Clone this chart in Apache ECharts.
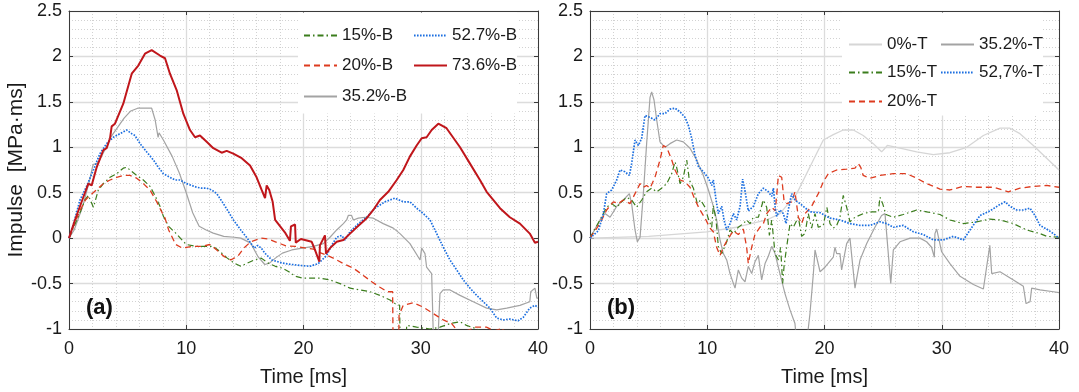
<!DOCTYPE html>
<html>
<head>
<meta charset="utf-8">
<script src="https://cdn.jsdelivr.net/npm/echarts@6/dist/echarts.min.js"></script>
<style>
  html, body { margin: 0; padding: 0; background: #fff; }
  #chart { width: 1079px; height: 392px; }
</style>
</head>
<body>
<div id="chart"></div>
<script>
// Impulse histories [MPa·ms] against time [ms], as [t, value] pairs.
// Panel (a): bottom gauges
const B15 = [[0,0],[0.5,0.15],[1.0,0.3],[1.36,0.42],[1.65,0.47],[1.79,0.46],[2.08,0.34],[2.22,0.40],[2.5,0.53],[2.93,0.60],[3.5,0.67],[4.07,0.71],[4.63,0.77],[4.92,0.78],[5.2,0.75],[5.77,0.69],[6.34,0.64],[6.91,0.57],[7.33,0.47],[7.76,0.35],[8.05,0.24],[8.5,0.13],[9.1,0.055],[10.0,-0.07],[10.8,-0.09],[11.7,-0.09],[12.3,-0.09],[12.9,-0.15],[13.5,-0.22],[14.1,-0.275],[14.65,-0.31],[15.2,-0.275],[15.8,-0.24],[16.4,-0.22],[17.0,-0.275],[17.6,-0.31],[18.2,-0.33],[18.75,-0.37],[19.3,-0.42],[19.9,-0.44],[20.55,-0.44],[21.4,-0.44],[22.26,-0.46],[23.11,-0.50],[23.97,-0.55],[24.82,-0.57],[25.67,-0.59],[26.52,-0.63],[27.38,-0.68],[27.8,-0.72],[28.2,-0.74],[28.25,-1.3],[28.7,-1.3],[28.8,-0.96],[29.65,-0.98],[30.8,-1.0],[31.64,-0.98],[32.5,-0.94],[33.35,-0.92],[33.9,-0.96],[34.8,-1.0],[36,-1.1],[38,-1.2],[40,-1.2]];
const B20 = [[0,0],[0.5,0.17],[1.0,0.32],[1.4,0.42],[1.79,0.47],[2.5,0.55],[2.93,0.60],[3.5,0.64],[4.07,0.67],[4.63,0.69],[5.2,0.69],[5.77,0.66],[6.34,0.60],[6.91,0.53],[7.48,0.40],[7.9,0.29],[8.19,0.22],[8.5,0.09],[9.1,-0.07],[9.67,-0.11],[10.55,-0.09],[11.4,-0.09],[12.0,-0.07],[12.6,-0.13],[13.2,-0.20],[13.8,-0.24],[14.4,-0.20],[14.9,-0.11],[15.5,-0.04],[16.4,0.0],[17.0,-0.01],[17.6,-0.04],[18.5,-0.085],[19.3,-0.09],[20.2,-0.11],[20.84,-0.12],[21.4,-0.16],[21.83,-0.18],[22.54,-0.22],[23.4,-0.28],[24.25,-0.33],[25.1,-0.41],[25.82,-0.48],[26.52,-0.54],[27.15,-0.59],[27.6,-0.59],[27.65,-1.3],[28.1,-1.3],[28.15,-0.85],[28.5,-0.74],[29.37,-0.71],[30.22,-0.76],[31.07,-0.83],[31.92,-0.90],[32.64,-0.94],[33.3,-1.05],[34.3,-1.0],[34.6,-0.98],[35.6,-0.98],[36.3,-1.02],[37.0,-0.99],[37.2,-1.3],[40,-1.3]];
const B35 = [[0,0],[0.44,0.09],[1.17,0.35],[1.76,0.64],[2.05,0.81],[2.5,0.83],[2.93,0.94],[3.22,1.01],[3.5,1.10],[4.1,1.21],[4.7,1.32],[5.27,1.40],[5.86,1.43],[6.45,1.43],[7.05,1.43],[7.15,1.44],[7.35,1.30],[7.6,1.11],[7.68,1.16],[8.05,1.08],[8.8,0.90],[9.4,0.72],[10.0,0.50],[10.55,0.28],[11.1,0.13],[11.7,0.09],[12.3,0.055],[13.2,0.02],[14.1,0.01],[14.65,0.0],[15.5,-0.055],[16.1,-0.2],[16.7,-0.29],[17.1,-0.275],[17.6,-0.22],[18.2,-0.165],[19.0,-0.13],[19.9,-0.11],[20.84,-0.09],[21.69,-0.06],[22.26,0.01],[22.83,0.09],[23.4,0.16],[23.68,0.20],[23.82,0.25],[24.1,0.25],[24.25,0.20],[24.68,0.22],[25.25,0.23],[25.95,0.22],[26.8,0.16],[27.66,0.11],[28.23,0.05],[29.08,-0.06],[29.8,-0.21],[29.94,-0.24],[30.08,-0.11],[30.36,-0.17],[30.5,-0.32],[30.93,-0.39],[31.07,-0.41],[31.12,-1.3],[31.4,-1.3],[31.64,-0.61],[31.92,-0.57],[32.5,-0.57],[33.35,-0.63],[34.48,-0.70],[35.62,-0.77],[36.48,-0.79],[37.33,-0.77],[38.46,-0.74],[39.3,-0.70],[39.38,-0.59],[39.74,-0.55],[39.9,-0.66],[40,-0.66]];
const B527 = [[0,0],[0.37,0.15],[0.94,0.42],[1.5,0.57],[2.08,0.75],[2.64,0.93],[3.21,1.04],[3.78,1.11],[4.35,1.15],[4.92,1.19],[5.35,1.15],[5.63,1.13],[6.06,1.04],[6.62,0.95],[7.2,0.86],[7.62,0.78],[8.05,0.71],[8.61,0.67],[9.04,0.64],[9.47,0.64],[10.03,0.60],[10.46,0.58],[10.89,0.56],[11.32,0.55],[11.74,0.55],[12.17,0.53],[12.6,0.49],[13.17,0.38],[13.6,0.29],[14.02,0.20],[14.65,0.09],[15.2,0.0],[15.8,-0.11],[16.1,-0.08],[16.4,-0.11],[16.7,-0.165],[17.3,-0.24],[18.2,-0.275],[19.0,-0.29],[19.7,-0.30],[20.55,-0.31],[21.26,-0.28],[21.98,-0.19],[22.4,-0.08],[22.83,0.01],[23.26,0.03],[23.54,-0.02],[23.97,0.07],[24.68,0.16],[25.39,0.23],[26.1,0.33],[26.95,0.40],[27.8,0.44],[28.51,0.40],[29.08,0.40],[29.65,0.33],[30.22,0.27],[30.79,0.20],[31.36,0.05],[31.92,-0.10],[32.49,-0.24],[33.07,-0.35],[33.63,-0.46],[34.2,-0.55],[34.77,-0.63],[35.33,-0.70],[35.9,-0.77],[36.48,-0.88],[37.04,-0.90],[37.6,-0.89],[38.3,-0.91],[38.75,-0.87],[39.3,-0.77],[39.74,-0.74],[40,-0.76]];
const B736 = [[0,0],[0.51,0.20],[1.22,0.45],[1.65,0.60],[1.93,0.58],[2.36,0.78],[2.93,0.97],[3.21,0.99],[3.5,1.10],[3.64,1.23],[3.92,1.26],[4.63,1.48],[5.35,1.81],[5.91,1.90],[6.48,2.03],[7.05,2.07],[7.76,2.01],[8.19,1.98],[8.61,1.81],[9.18,1.63],[9.75,1.37],[10.32,1.19],[10.75,1.11],[11.17,1.13],[11.74,1.06],[12.31,0.99],[13.02,0.94],[13.45,0.96],[14.01,0.93],[14.73,0.88],[15.44,0.80],[16.0,0.67],[16.43,0.53],[16.72,0.44],[16.86,0.58],[17.08,0.53],[17.37,0.40],[17.58,0.20],[18.46,0.055],[18.84,-0.03],[18.93,0.13],[19.28,0.15],[19.34,-0.05],[19.78,-0.01],[20.7,-0.04],[20.98,-0.13],[21.35,-0.26],[21.4,-0.08],[21.83,0.03],[21.92,-0.17],[22.26,-0.11],[22.83,-0.04],[23.4,-0.02],[23.97,0.05],[24.54,0.12],[25.39,0.22],[25.95,0.31],[26.52,0.42],[27.23,0.51],[27.95,0.64],[28.51,0.75],[29.08,0.90],[29.65,1.02],[30.08,1.10],[30.5,1.11],[30.93,1.19],[31.5,1.26],[32.2,1.21],[33.35,1.00],[34.2,0.82],[35.05,0.64],[35.62,0.51],[36.76,0.33],[37.6,0.23],[38.46,0.16],[39.3,0.05],[39.74,-0.05],[40,-0.04]];

// Panel (b): top gauges
const T0 = [[0,0],[5,0.02],[9.95,0.07],[12.51,0.12],[15.07,0.20],[16.2,0.27],[17.63,0.49],[19.05,0.86],[19.9,1.08],[20.75,1.14],[21.6,1.19],[22.46,1.19],[23.3,1.13],[24.16,1.04],[24.87,0.95],[25.16,0.99],[25.36,1.02],[26.44,0.99],[27.86,0.95],[29.28,0.92],[30.7,0.94],[32.13,1.0],[33.55,1.13],[34.97,1.21],[35.82,1.21],[36.67,1.15],[37.81,1.02],[38.95,0.88],[40,0.75]];
const T15 = [[0,0],[0.85,0.20],[1.42,0.34],[1.85,0.38],[2.28,0.34],[2.7,0.40],[3.13,0.45],[3.55,0.42],[3.98,0.34],[4.41,0.42],[4.83,0.51],[5.26,0.55],[5.69,0.51],[6.11,0.55],[6.54,0.60],[6.97,0.71],[7.25,0.84],[7.39,0.78],[7.68,0.60],[7.96,0.67],[8.25,0.86],[8.47,0.64],[8.82,0.55],[9.15,0.38],[9.44,0.42],[9.81,0.34],[10.1,0.21],[10.38,0.12],[10.52,0.36],[10.75,0.20],[10.95,-0.10],[11.24,-0.17],[11.66,-0.04],[11.94,0.09],[12.23,0.05],[12.65,0.12],[13.08,0.16],[13.36,0.20],[13.65,0.16],[13.93,0.23],[14.36,0.23],[14.79,0.42],[15.07,0.34],[15.3,0.03],[15.5,0.20],[15.78,-0.17],[16.07,-0.24],[16.26,-0.10],[16.43,-0.50],[16.55,-0.31],[16.77,-0.10],[17.06,0.16],[17.34,0.12],[17.77,0.23],[18.05,0.02],[18.34,0.05],[18.62,0.27],[18.9,0.11],[19.19,0.27],[19.47,0.12],[19.9,0.14],[20.2,0.34],[20.47,0.16],[20.75,0.11],[21.04,0.14],[21.32,0.23],[21.6,0.47],[21.89,0.34],[22.17,0.18],[22.6,0.23],[23.3,0.27],[24.02,0.29],[24.59,0.29],[24.73,0.45],[24.96,0.38],[25.24,0.26],[25.87,0.23],[26.72,0.26],[27.86,0.31],[28.71,0.29],[29.85,0.26],[30.7,0.20],[31.84,0.16],[32.98,0.18],[34.11,0.21],[34.97,0.20],[36.11,0.16],[37.25,0.09],[38.38,0.05],[38.95,0.02],[40,0.01]];
const T20 = [[0,0],[0.85,0.16],[1.42,0.31],[1.99,0.40],[2.42,0.38],[2.84,0.42],[3.41,0.38],[3.84,0.49],[4.27,0.60],[4.55,0.56],[4.83,0.58],[5.12,0.55],[5.54,0.67],[5.97,0.86],[6.25,1.02],[6.54,1.0],[6.97,0.86],[7.25,0.75],[7.68,0.64],[8.1,0.62],[8.53,0.56],[8.96,0.42],[9.38,0.31],[9.81,0.22],[10.24,0.11],[10.52,0.07],[10.8,-0.10],[11.09,-0.19],[11.37,-0.10],[11.8,0.0],[12.23,0.08],[12.65,0.04],[13.08,0.10],[13.36,-0.10],[13.5,-0.28],[13.79,-0.10],[14.07,0.04],[14.5,0.12],[14.79,0.16],[15.07,0.27],[15.5,0.34],[15.8,0.30],[16.07,0.69],[16.35,0.67],[16.55,0.41],[16.77,0.38],[17.2,0.40],[17.48,0.51],[17.77,0.23],[18.05,0.16],[18.34,0.27],[18.9,0.35],[19.47,0.49],[19.9,0.62],[20.33,0.71],[21.04,0.75],[21.89,0.76],[22.6,0.77],[22.89,0.82],[23.09,0.78],[23.3,0.69],[23.88,0.66],[24.73,0.69],[25.87,0.71],[27.0,0.71],[27.86,0.66],[28.71,0.60],[29.85,0.54],[30.7,0.53],[31.84,0.57],[32.98,0.56],[34.4,0.56],[35.68,0.51],[36.67,0.55],[37.81,0.57],[38.95,0.58],[40,0.56]];
const T35 = [[0,0],[0.85,0.20],[1.28,0.27],[1.71,0.23],[2.28,0.35],[2.84,0.42],[3.36,0.49],[3.55,0.38],[3.84,0.09],[4.04,-0.04],[4.27,0.01],[4.55,0.49],[4.83,1.04],[5.12,1.55],[5.26,1.61],[5.46,1.52],[5.69,1.30],[5.97,1.06],[6.4,1.0],[6.82,1.04],[7.39,1.08],[7.96,1.06],[8.53,0.99],[9.1,0.86],[9.67,0.69],[10.1,0.53],[10.52,0.35],[10.8,0.2],[11.09,-0.02],[11.37,-0.17],[11.66,-0.24],[11.94,-0.39],[12.37,-0.55],[12.65,-0.35],[12.94,-0.44],[13.22,-0.48],[13.5,-0.31],[13.79,-0.39],[14.07,-0.26],[14.36,-0.19],[14.64,-0.46],[14.93,-0.28],[15.21,-0.20],[15.5,-0.09],[15.78,-0.17],[16.2,-0.39],[16.63,-0.61],[17.06,-0.79],[17.48,-0.94],[17.63,-1.15],[18.48,-1.15],[18.76,-0.83],[19.05,-0.39],[19.19,-0.13],[19.62,-0.37],[20.04,-0.32],[20.75,-0.21],[20.89,-0.10],[21.04,-0.17],[21.32,-0.17],[21.46,-0.35],[21.89,-0.06],[22.17,0.0],[22.6,-0.55],[23.03,-0.24],[23.6,-0.06],[24.3,0.12],[24.87,0.25],[25.16,0.27],[25.65,-0.50],[25.87,-0.13],[26.44,-0.04],[27.3,0.0],[28.14,0.0],[28.71,-0.04],[29.13,-0.10],[29.37,-0.21],[29.42,0.05],[29.57,0.10],[29.99,-0.15],[30.7,-0.28],[31.56,-0.42],[32.7,-0.51],[33.55,-0.56],[33.65,-0.56],[34.1,-0.08],[34.26,-0.39],[34.97,-0.37],[36.11,-0.46],[36.96,-0.53],[37.19,-0.72],[37.53,-0.70],[37.67,-0.55],[38.38,-0.57],[39.52,-0.59],[40,-0.60]];
const T527 = [[0,0],[0.71,0.08],[1.14,0.27],[1.42,0.49],[1.85,0.53],[2.28,0.64],[2.56,0.75],[2.99,0.73],[3.36,0.69],[3.55,0.82],[3.84,1.08],[4.13,1.02],[4.41,1.10],[4.69,1.35],[5.12,1.33],[5.54,1.30],[5.97,1.37],[6.4,1.37],[6.82,1.42],[7.25,1.43],[7.68,1.39],[8.1,1.33],[8.39,1.24],[8.67,1.10],[8.96,0.91],[9.24,0.79],[9.67,0.73],[10.1,0.66],[10.38,0.58],[10.52,0.64],[10.75,0.42],[10.95,0.27],[11.24,0.35],[11.43,0.20],[11.66,0.09],[11.94,0.16],[12.23,0.27],[12.51,0.20],[12.8,0.35],[13.02,0.65],[13.22,0.52],[13.5,0.30],[13.93,0.35],[14.36,0.49],[14.79,0.55],[15.21,0.51],[15.5,0.46],[15.64,0.55],[15.78,0.35],[15.92,0.24],[16.2,0.31],[16.49,0.27],[16.72,0.16],[16.91,0.31],[17.2,0.49],[17.48,0.42],[17.91,0.38],[18.76,0.29],[19.62,0.28],[20.47,0.22],[21.32,0.20],[22.17,0.16],[23.03,0.14],[23.88,0.14],[24.73,0.18],[25.3,0.16],[25.87,0.12],[26.72,0.14],[27.58,0.07],[28.43,0.04],[29.28,-0.02],[30.13,-0.02],[30.99,0.02],[31.84,-0.02],[32.41,0.09],[33.27,0.25],[34.11,0.30],[34.83,0.36],[35.4,0.40],[35.82,0.35],[36.39,0.31],[36.96,0.31],[37.53,0.33],[37.95,0.25],[38.38,0.14],[38.95,0.10],[39.52,0.05],[40,0.0]];

const yTicks = { min: -1, max: 2.5, step: 0.5 };
const xTicks = { min: 0, max: 40, step: 10 };

const FONT = "'Liberation Sans', Arial, Helvetica, sans-serif";
const INK = '#1a1a1a';
const FRAME = '#3a3a3a';

const C = {
  green: '#3b7d1c',
  redDash: '#dd3b1f',
  gray: '#a3a3a3',
  blue: '#1c6fe0',
  red: '#c0161b',
  pale: '#d6d6d6'
};
const DASHDOT = [6, 3, 1.5, 3];
const DASH = [6, 4];
const DOT = [1.6, 1.4];

const chart = echarts.init(document.getElementById('chart'), null, { renderer: 'canvas' });

function xAxis(gridIndex, main) {
  return {
    type: 'value', gridIndex, position: main ? 'bottom' : 'top',
    min: xTicks.min, max: xTicks.max, interval: xTicks.step,
    axisLine: { show: true, onZero: false, lineStyle: { color: FRAME, width: 1 } },
    axisTick: { show: true, inside: true, length: 4, lineStyle: { color: FRAME } },
    axisLabel: { show: main, fontSize: 18, color: INK, fontFamily: FONT, margin: 11 },
    splitLine: { show: main, lineStyle: { color: '#dcdcdc', width: 1.3 } },
    minorTick: { show: false, splitNumber: 5 },
    minorSplitLine: { show: main, lineStyle: { color: '#d2d2d2', width: 1, type: [1, 2] } },
    name: main ? 'Time [ms]' : '', nameLocation: 'middle', nameGap: 38,
    nameTextStyle: { fontSize: 20, color: INK, fontFamily: FONT }
  };
}
function yAxis(gridIndex, main, title) {
  return {
    type: 'value', gridIndex, position: main ? 'left' : 'right',
    min: yTicks.min, max: yTicks.max, interval: yTicks.step,
    axisLine: { show: true, onZero: false, lineStyle: { color: FRAME, width: 1 } },
    axisTick: { show: true, inside: true, length: 4, lineStyle: { color: FRAME } },
    axisLabel: { show: main, fontSize: 18, color: INK, fontFamily: FONT, margin: 7 },
    splitLine: { show: main, lineStyle: { color: '#dcdcdc', width: 1.3 } },
    minorTick: { show: false, splitNumber: 5 },
    minorSplitLine: { show: main, lineStyle: { color: '#d2d2d2', width: 1, type: [1, 2] } },
    name: title || '', nameLocation: 'middle', nameGap: 42,
    nameTextStyle: { fontSize: 21, color: INK, fontFamily: FONT }
  };
}

function line(name, data, panel, color, width, type) {
  return {
    type: 'line', name, data,
    xAxisIndex: panel * 2, yAxisIndex: panel * 2,
    showSymbol: false, symbol: 'none', clip: true,
    lineStyle: { color, width, type },
    itemStyle: { color },
    emphasis: { disabled: true }
  };
}

// one legend entry per slot, line sample only (no marker)
function legendItem(name, left, centerY) {
  return {
    data: [name], left, top: centerY - 9, padding: 0,
    itemWidth: 33, itemHeight: 12, selectedMode: false,
    itemStyle: { opacity: 0, borderWidth: 0 },
    textStyle: { fontSize: 17, color: INK, fontFamily: FONT }
  };
}

const option = {
  animation: false,
  backgroundColor: '#fff',
  grid: [
    { left: 69, top: 11, width: 469, height: 318 },
    { left: 590, top: 11, width: 469, height: 318 }
  ],
  xAxis: [xAxis(0, true), xAxis(0, false), xAxis(1, true), xAxis(1, false)],
  yAxis: [yAxis(0, true, 'Impulse  [MPa·ms]'), yAxis(0, false), yAxis(1, true), yAxis(1, false)],
  legend: [
    legendItem('15%-B', 303, 36),
    legendItem('52.7%-B', 413, 36),
    legendItem('20%-B', 303, 66),
    legendItem('73.6%-B', 413, 66),
    legendItem('35.2%-B', 303, 97),
    legendItem('0%-T', 848, 45),
    legendItem('35.2%-T', 940, 45),
    legendItem('15%-T', 848, 73),
    legendItem('52,7%-T', 940, 73),
    legendItem('20%-T', 848, 102)
  ],
  graphic: [
    { type: 'rect', z: 1, shape: { x: 298, y: 12.5, width: 219, height: 101 }, style: { fill: '#fff' } },
    { type: 'rect', z: 1, shape: { x: 842, y: 12.5, width: 201, height: 103 }, style: { fill: '#fff' } },
    { type: 'text', z: 5, x: 86, y: 308, style: { text: '(a)', font: 'bold 22px ' + FONT, fill: '#111', verticalAlign: 'middle' } },
    { type: 'text', z: 5, x: 607, y: 308, style: { text: '(b)', font: 'bold 22px ' + FONT, fill: '#111', verticalAlign: 'middle' } }
  ],
  series: [
    line('35.2%-B', B35, 0, C.gray, 1.2, 'solid'),
    line('15%-B', B15, 0, C.green, 1.2, DASHDOT),
    line('20%-B', B20, 0, C.redDash, 1.3, DASH),
    line('52.7%-B', B527, 0, C.blue, 1.7, DOT),
    line('73.6%-B', B736, 0, C.red, 2, 'solid'),
    line('0%-T', T0, 1, C.pale, 1.3, 'solid'),
    line('35.2%-T', T35, 1, C.gray, 1.2, 'solid'),
    line('15%-T', T15, 1, C.green, 1.2, DASHDOT),
    line('20%-T', T20, 1, C.redDash, 1.3, DASH),
    line('52,7%-T', T527, 1, C.blue, 1.7, DOT)
  ]
};

chart.setOption(option);
</script>
</body>
</html>
